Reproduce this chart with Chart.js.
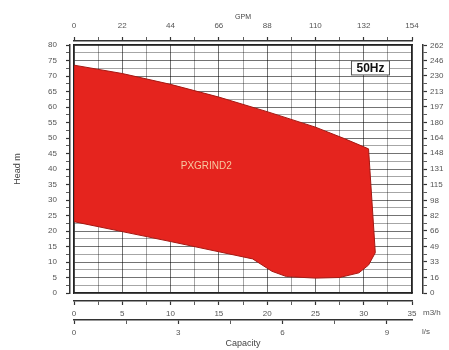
<!DOCTYPE html>
<html>
<head>
<meta charset="utf-8">
<script src="https://cdn.jsdelivr.net/npm/chart.js@4.4.0/dist/chart.umd.min.js"></script>
<style>
  html, body { margin: 0; padding: 0; background: #fff; }
</style>
</head>
<body>
<canvas id="curve" width="449" height="350"></canvas>
<script>
// Campo de operação PXGRIND2 - 50Hz

// contorno da área (vazão m3/h, altura m), sentido horário
const flowM3h = [0, 5, 10, 15, 20, 25, 28, 30.5, 31.2, 30.5, 29.5, 27.5, 25, 22, 20.5, 18.5, 15, 10, 5, 0, 0];
const headM   = [73.5, 70.8, 67.3, 63.2, 58.5, 53.5, 49.8, 46.5, 13, 9, 6.5, 5, 4.8, 5.3, 7, 11, 13.3, 16.6, 19.8, 23, 73.5];

// rótulos dos eixos
const m3hLabels  = [0, 5, 10, 15, 20, 25, 30, 35];
const lsLabels   = [0, 3, 6, 9];
const gpmLabels  = [0, 22, 44, 66, 88, 110, 132, 154];
const headLabels = [0, 5, 10, 15, 20, 25, 30, 35, 40, 45, 50, 55, 60, 65, 70, 75, 80];
const ftLabels   = [0, 16, 33, 49, 66, 82, 98, 115, 131, 148, 164, 180, 197, 213, 230, 246, 262];

const modelName = 'PXGRIND2';
const freqLabel = '50Hz';

const fontFamily = '"Liberation Sans", Arial, sans-serif';
const tickFont = { family: fontFamily, size: 8 };
const axisColor = '#333';
const labelColor = '#555';

// marcas principais + intermediárias
function withMinor(labels) {
    const out = [];
    labels.forEach((v, i) => {
        out.push(v);
        if (i < labels.length - 1) out.push((v + labels[i + 1]) / 2);
    });
    return out;
}
function buildTicks(labels) {
    return scale => { scale.ticks = withMinor(labels).map(v => ({ value: v })); };
}
function labelOnly(labels) {
    return v => labels.includes(v) ? String(v) : '';
}
function fixWidth(w) { return scale => { scale.width = w; }; }
function fixHeight(h) { return scale => { scale.height = h; }; }

function mainAxis(position, weight, min, max, labels, size, extra) {
    return Object.assign({
        type: 'linear',
        position: position,
        weight: weight,
        min: min,
        max: max,
        afterBuildTicks: buildTicks(labels),
        afterFit: (position === 'top' || position === 'bottom') ? fixHeight(size) : fixWidth(size),
        ticks: {
            callback: labelOnly(labels),
            font: tickFont,
            color: labelColor,
            padding: 4,
            autoSkip: false,
            maxRotation: 0
        },
        grid: {
            drawOnChartArea: false,
            tickLength: 4,
            tickColor: axisColor,
            tickWidth: ctx => (ctx.tick && labels.includes(ctx.tick.value)) ? 1.2 : 0.8
        },
        border: { display: true, color: axisColor, width: 1.5 }
    }, extra || {});
}

function gapAxis(position, size) {
    return {
        type: 'linear',
        position: position,
        weight: 0,
        afterFit: (position === 'top' || position === 'bottom') ? fixHeight(size) : fixWidth(size),
        ticks: { display: false },
        grid: { display: false },
        border: { display: true, color: '#222', width: 1.5 }
    };
}

const gridColor = step => ctx => (ctx.tick && ctx.tick.value % step === 0) ? 'rgba(0,0,0,0.55)' : 'rgba(0,0,0,0.35)';

const scales = {
    xgap: gapAxis('bottom', 8),
    x: mainAxis('bottom', 1, 0, 35, m3hLabels, 19, {}),
    xls: mainAxis('bottom', 2, 0, 35 / 3.6, lsLabels, 30, {
        title: { display: true, text: 'Capacity', font: { family: fontFamily, size: 9 }, color: '#444', padding: { top: 0, bottom: 1 } }
    }),
    xtopgap: gapAxis('top', 4),
    xgpm: mainAxis('top', 1, 0, 154, gpmLabels, 41, {
        title: { display: true, text: 'GPM', font: { family: fontFamily, size: 7 }, color: '#444', padding: { top: 13, bottom: 0 } }
    }),
    ygap: gapAxis('left', 4),
    y: mainAxis('left', 1, 0, 80, headLabels, 70, {
        title: { display: true, text: 'Head m', font: { family: fontFamily, size: 9 }, color: '#444', padding: { top: 12, bottom: 0 } }
    }),
    yrgap: gapAxis('right', 11),
    yft: mainAxis('right', 1, 0, 80 * 3.2808, ftLabels, 26, {})
};
scales.x.grid.drawOnChartArea = true;
scales.x.grid.color = gridColor(5);
scales.x.grid.lineWidth = 1;
scales.y.grid.drawOnChartArea = true;
scales.y.grid.color = gridColor(5);
scales.y.grid.lineWidth = 1;
scales.y.ticks.padding = 9;
scales.yft.ticks.padding = 3;
scales.xgpm.ticks.padding = 6;

// textos dentro e ao redor do gráfico
const annotations = {
    id: 'annotations',
    afterDatasetsDraw(chart) {
        const { ctx, scales: s } = chart;
        ctx.save();
        ctx.font = '10px ' + fontFamily;
        ctx.fillStyle = '#f7c9a0';
        ctx.textAlign = 'center';
        ctx.textBaseline = 'middle';
        ctx.fillText(modelName, s.x.getPixelForValue(13.7), s.y.getPixelForValue(41));

        const bx = s.x.getPixelForValue(30.7);
        const by = s.y.getPixelForValue(72.6);
        ctx.fillStyle = '#fff';
        ctx.fillRect(bx - 19, by - 7, 38, 14);
        ctx.strokeStyle = '#555';
        ctx.lineWidth = 1;
        ctx.strokeRect(bx - 19, by - 7, 38, 14);
        ctx.fillStyle = '#111';
        ctx.font = 'bold 12px ' + fontFamily;
        ctx.fillText(freqLabel, bx, by + 0.5);

        ctx.font = '8px ' + fontFamily;
        ctx.fillStyle = labelColor;
        ctx.textAlign = 'left';
        ctx.fillText('m3/h', s.x.right + 11, s.x.top + 12);
        ctx.fillText('l/s', s.xls.right + 10, s.xls.top + 12);
        ctx.restore();
    }
};

new Chart(document.getElementById('curve'), {
    type: 'scatter',
    data: {
        datasets: [{
            label: modelName,
            data: flowM3h.map((q, i) => ({ x: q, y: headM[i] })),
            showLine: true,
            fill: 'shape',
            backgroundColor: 'rgb(229, 36, 30)',
            borderColor: 'rgb(165, 24, 18)',
            borderWidth: 1,
            pointRadius: 0,
            tension: 0,
            xAxisID: 'x',
            yAxisID: 'y'
        }]
    },
    options: {
        responsive: false,
        animation: false,
        layout: { padding: 0 },
        scales: scales,
        plugins: {
            legend: { display: false },
            tooltip: { enabled: false }
        }
    },
    plugins: [annotations]
});
</script>
</body>
</html>
